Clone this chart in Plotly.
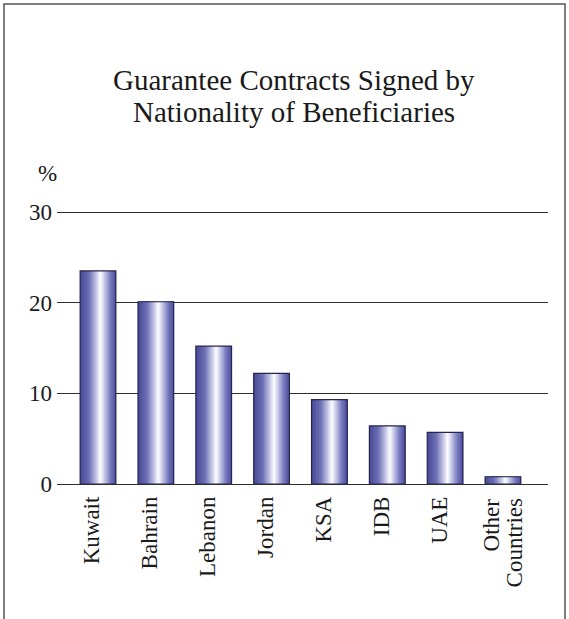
import plotly.graph_objects as go

categories = ["Kuwait", "Bahrain", "Lebanon", "Jordan", "KSA", "IDB", "UAE", "Other Countries"]
tick_labels = ["Kuwait", "Bahrain", "Lebanon", "Jordan", "KSA", "IDB", "UAE", ""]
last_label_lines = ["Other", "Countries"]
values = [23.5, 20.1, 15.2, 12.2, 9.3, 6.4, 5.7, 0.8]
y_ticks = [0, 10, 20, 30]
title_lines = ["Guarantee Contracts Signed by", "Nationality of Beneficiaries"]

W, H = 569, 619
L, R, T, B = 57, 548, 209, 484  # plot area in pixels
Y_TOP_PX = 212                  # pixel row of the 30 gridline
Y_MAX = 30 + (Y_TOP_PX - T) / ((B - Y_TOP_PX) / 30)
C0, STEP = 98.0, 57.85  # pixel centre of first category, pixels per category

grad_stops = [(0.0, (70, 74, 150)), (0.25, (108, 111, 180)), (0.45, (196, 197, 230)),
              (0.57, (255, 255, 255)), (0.68, (200, 201, 232)), (0.85, (116, 119, 188)),
              (1.0, (78, 81, 158))]


def grad(t):
    for (t0, c0), (t1, c1) in zip(grad_stops[:-1], grad_stops[1:]):
        if t0 <= t <= t1:
            f = (t - t0) / (t1 - t0) if t1 > t0 else 0
            c = [round(a + (b - a) * f) for a, b in zip(c0, c1)]
            return f"rgb({c[0]},{c[1]},{c[2]})"
    return "rgb(78,81,158)"


bar_w = 0.617
N = 24
fig = go.Figure()
for k in range(N):
    left = -bar_w / 2 + k * bar_w / N
    fig.add_trace(go.Bar(
        x=categories, y=values,
        width=bar_w / 2 - left, offset=left,
        marker=dict(color=grad((k + 0.5) / N), line=dict(width=0)),
        hoverinfo="skip", showlegend=False,
    ))
fig.add_trace(go.Bar(
    x=categories, y=values, width=bar_w, offset=-bar_w / 2,
    marker=dict(color="rgba(0,0,0,0)", line=dict(color="#26264d", width=1.2)),
    showlegend=False,
))

pw = R - L
ph = B - T
serif = "Liberation Serif, Times New Roman, serif"

annotations = [dict(text="%", xref="paper", yref="paper",
                    x=(47 - L) / pw, y=(B - 173) / ph, showarrow=False,
                    xanchor="center", yanchor="middle", font=dict(size=23))]
for line, yc in zip(title_lines, [80, 112]):
    annotations.append(dict(text=line, xref="paper", yref="paper",
                            x=(294 - L) / pw, y=(B - yc) / ph, showarrow=False,
                            xanchor="center", yanchor="middle", font=dict(size=29)))
for line, sh in zip(last_label_lines, [-11, 12]):
    annotations.append(dict(text=line, x=categories[-1], xref="x", yref="paper",
                            y=(B - 496) / ph, xshift=sh, textangle=-90, showarrow=False,
                            xanchor="center", yanchor="top", font=dict(size=23)))

fig.update_layout(
    width=W, height=H,
    margin=dict(l=L, r=W - R, t=T, b=H - B, pad=0),
    paper_bgcolor="white", plot_bgcolor="white",
    barmode="overlay",
    font=dict(family=serif, size=23, color="#1a1a1a"),
    xaxis=dict(type="category", range=[(L - C0) / STEP, (R - C0) / STEP],
               tickvals=categories, ticktext=tick_labels,
               showgrid=False, zeroline=False, showline=False, ticks="",
               tickangle=-90, ticklabelstandoff=7, ticklabelshift=-6, fixedrange=True),
    yaxis=dict(range=[0, Y_MAX], tickvals=y_ticks, showgrid=True, gridcolor="#2e2e2e",
               gridwidth=1.3, zeroline=True, zerolinecolor="#2e2e2e", zerolinewidth=1.3,
               showline=False, ticks="", ticklabelstandoff=4, fixedrange=True),
    annotations=annotations,
    shapes=[dict(type="rect", xref="paper", yref="paper",
                 x0=(4 - L) / pw, x1=(565 - L) / pw,
                 y0=(B - 640) / ph, y1=(B - 4) / ph,
                 line=dict(color="#555555", width=1.5), fillcolor="rgba(0,0,0,0)")],
)

fig.write_html("out.html", config={"displayModeBar": False},
               post_script="document.body.style.margin='0px';")
